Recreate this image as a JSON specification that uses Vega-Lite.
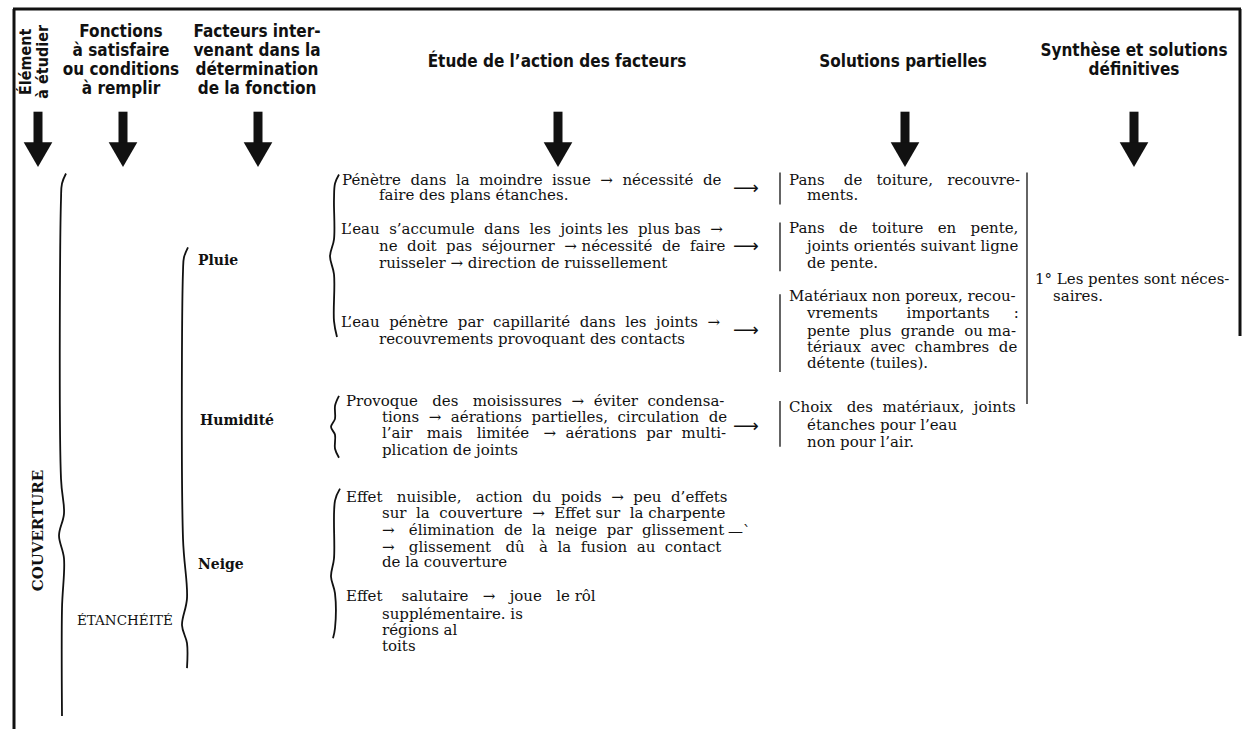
{
  "$schema": "https://vega.github.io/schema/vega-lite/v6.json",
  "width": 1247,
  "height": 731,
  "autosize": {"type": "fit", "contains": "padding"},
  "padding": 0,
  "background": "white",
  "config": {"view": {"stroke": null}},
  "data": {"values": [
      {"k": "head", "x": 121, "y": 32, "t": "Fonctions"},
      {"k": "head", "x": 121, "y": 51, "t": "à satisfaire"},
      {"k": "head", "x": 121, "y": 70, "t": "ou conditions"},
      {"k": "head", "x": 121, "y": 89, "t": "à remplir"},
      {"k": "head", "x": 257, "y": 32, "t": "Facteurs inter-"},
      {"k": "head", "x": 257, "y": 51, "t": "venant dans la"},
      {"k": "head", "x": 257, "y": 70, "t": "détermination"},
      {"k": "head", "x": 257, "y": 89, "t": "de la fonction"},
      {"k": "head", "x": 557, "y": 62, "t": "Étude de l’action des facteurs"},
      {"k": "head", "x": 903, "y": 62, "t": "Solutions partielles"},
      {"k": "head", "x": 1134, "y": 51, "t": "Synthèse et solutions"},
      {"k": "head", "x": 1134, "y": 70, "t": "définitives"},
      {"k": "headrot", "x": 26, "y": 62, "t": "Élément"},
      {"k": "headrot", "x": 43, "y": 62, "t": "à étudier"},
      {"k": "labelrot", "x": 38, "y": 532, "t": "COUVERTURE"},
      {"k": "caps", "x": 77, "y": 623, "t": "ÉTANCHÉITÉ"},
      {"k": "label", "x": 198, "y": 262, "t": "Pluie"},
      {"k": "label", "x": 200, "y": 422, "t": "Humidité"},
      {"k": "label", "x": 198, "y": 567, "t": "Neige"},
      {"k": "body", "x": 342, "y": 180, "t": "Pénètre\u00a0 dans\u00a0 la\u00a0 moindre\u00a0 issue\u00a0 →\u00a0 nécessité\u00a0 de"},
      {"k": "body", "x": 379, "y": 196, "t": "faire des plans étanches."},
      {"k": "body", "x": 341, "y": 230, "t": "L’eau\u00a0 s’accumule\u00a0 dans\u00a0 les\u00a0 joints les\u00a0 plus bas\u00a0 →"},
      {"k": "body", "x": 379, "y": 247, "t": "ne\u00a0 doit\u00a0 pas\u00a0 séjourner\u00a0 → nécessité\u00a0 de\u00a0 faire"},
      {"k": "body", "x": 379, "y": 264, "t": "ruisseler → direction de ruissellement"},
      {"k": "body", "x": 341, "y": 323, "t": "L’eau\u00a0 pénètre\u00a0 par\u00a0 capillarité\u00a0 dans\u00a0 les\u00a0 joints\u00a0 →"},
      {"k": "body", "x": 379, "y": 340, "t": "recouvrements provoquant des contacts"},
      {"k": "body", "x": 346, "y": 402, "t": "Provoque\u00a0\u00a0 des\u00a0\u00a0 moisissures\u00a0 →\u00a0 éviter\u00a0 condensa-"},
      {"k": "body", "x": 382, "y": 418, "t": "tions\u00a0 →\u00a0 aérations\u00a0 partielles,\u00a0 circulation\u00a0 de"},
      {"k": "body", "x": 382, "y": 434, "t": "l’air\u00a0\u00a0 mais\u00a0\u00a0 limitée\u00a0\u00a0 →\u00a0 aérations\u00a0 par\u00a0 multi-"},
      {"k": "body", "x": 382, "y": 451, "t": "plication de joints"},
      {"k": "body", "x": 346, "y": 498, "t": "Effet\u00a0\u00a0 nuisible,\u00a0\u00a0 action\u00a0 du\u00a0 poids\u00a0 →\u00a0 peu\u00a0 d’effets"},
      {"k": "body", "x": 382, "y": 514, "t": "sur\u00a0 la\u00a0 couverture\u00a0 →\u00a0 Effet sur\u00a0 la charpente"},
      {"k": "body", "x": 382, "y": 531, "t": "→\u00a0\u00a0 élimination\u00a0 de\u00a0 la\u00a0 neige\u00a0 par\u00a0 glissement"},
      {"k": "body", "x": 382, "y": 548, "t": "→\u00a0\u00a0 glissement\u00a0\u00a0 dû\u00a0\u00a0 à\u00a0 la\u00a0 fusion\u00a0 au\u00a0 contact"},
      {"k": "body", "x": 382, "y": 564, "t": "de la couverture"},
      {"k": "body", "x": 346, "y": 598, "t": "Effet\u00a0\u00a0\u00a0 salutaire\u00a0\u00a0 →\u00a0\u00a0 joue\u00a0\u00a0 le rôl"},
      {"k": "body", "x": 382, "y": 616, "t": "supplémentaire. is"},
      {"k": "body", "x": 382, "y": 632, "t": "régions al"},
      {"k": "body", "x": 382, "y": 648, "t": "toits"},
      {"k": "arrow", "x": 733, "y": 190, "t": "⟶"},
      {"k": "arrow", "x": 733, "y": 248, "t": "⟶"},
      {"k": "arrow", "x": 733, "y": 332, "t": "⟶"},
      {"k": "arrow", "x": 733, "y": 428, "t": "⟶"},
      {"k": "body", "x": 728, "y": 532, "t": "—`"},
      {"k": "body", "x": 789, "y": 180, "t": "Pans\u00a0\u00a0\u00a0 de\u00a0\u00a0 toiture,\u00a0\u00a0 recouvre-"},
      {"k": "body", "x": 807, "y": 196, "t": "ments."},
      {"k": "body", "x": 789, "y": 229, "t": "Pans\u00a0\u00a0 de\u00a0\u00a0 toiture\u00a0\u00a0 en\u00a0\u00a0 pente,"},
      {"k": "body", "x": 807, "y": 247, "t": "joints orientés suivant ligne"},
      {"k": "body", "x": 807, "y": 264, "t": "de pente."},
      {"k": "body", "x": 789, "y": 297, "t": "Matériaux non poreux, recou-"},
      {"k": "body", "x": 807, "y": 314, "t": "vrements\u00a0\u00a0\u00a0\u00a0\u00a0 importants\u00a0\u00a0\u00a0\u00a0 :"},
      {"k": "body", "x": 807, "y": 332, "t": "pente\u00a0 plus\u00a0 grande\u00a0 ou ma-"},
      {"k": "body", "x": 807, "y": 348, "t": "tériaux\u00a0 avec\u00a0 chambres\u00a0 de"},
      {"k": "body", "x": 807, "y": 364, "t": "détente (tuiles)."},
      {"k": "body", "x": 789, "y": 408, "t": "Choix\u00a0\u00a0 des\u00a0 matériaux,\u00a0 joints"},
      {"k": "body", "x": 807, "y": 426, "t": "étanches pour l’eau"},
      {"k": "body", "x": 807, "y": 443, "t": "non pour l’air."},
      {"k": "body", "x": 1035, "y": 280, "t": "1° Les pentes sont néces-"},
      {"k": "body", "x": 1053, "y": 297, "t": "saires."},
      {"k": "border", "x": 13, "y": 9, "x2": 1241, "y2": 9},
      {"k": "border", "x": 14, "y": 9, "x2": 14, "y2": 731},
      {"k": "border", "x": 1240, "y": 9, "x2": 1240, "y2": 337},
      {"k": "bar", "x": 780, "y": 173, "x2": 780, "y2": 205},
      {"k": "bar", "x": 780, "y": 223, "x2": 780, "y2": 272},
      {"k": "bar", "x": 780, "y": 295, "x2": 780, "y2": 373},
      {"k": "bar", "x": 780, "y": 402, "x2": 780, "y2": 448},
      {"k": "bar", "x": 1027, "y": 173, "x2": 1027, "y2": 405},
      {"k": "shaft", "x": 38, "y": 112, "x2": 38, "y2": 146},
      {"k": "shaft", "x": 123, "y": 112, "x2": 123, "y2": 146},
      {"k": "shaft", "x": 258, "y": 112, "x2": 258, "y2": 146},
      {"k": "shaft", "x": 558, "y": 112, "x2": 558, "y2": 146},
      {"k": "shaft", "x": 905, "y": 112, "x2": 905, "y2": 146},
      {"k": "shaft", "x": 1134, "y": 112, "x2": 1134, "y2": 146},
      {"k": "head3", "x": 38, "y": 155},
      {"k": "head3", "x": 123, "y": 155},
      {"k": "head3", "x": 258, "y": 155},
      {"k": "head3", "x": 558, "y": 155},
      {"k": "head3", "x": 905, "y": 155},
      {"k": "head3", "x": 1134, "y": 155},
      {"k": "brace", "id": "b1", "o": 1, "x": 66, "y": 174},
      {"k": "brace", "id": "b1", "o": 2, "x": 62, "y": 184},
      {"k": "brace", "id": "b1", "o": 3, "x": 61, "y": 200},
      {"k": "brace", "id": "b1", "o": 4, "x": 61, "y": 480},
      {"k": "brace", "id": "b1", "o": 5, "x": 64, "y": 515},
      {"k": "brace", "id": "b1", "o": 6, "x": 59, "y": 537},
      {"k": "brace", "id": "b1", "o": 7, "x": 64, "y": 560},
      {"k": "brace", "id": "b1", "o": 8, "x": 62, "y": 610},
      {"k": "brace", "id": "b1", "o": 9, "x": 62, "y": 718},
      {"k": "brace", "id": "b2", "o": 1, "x": 188, "y": 248},
      {"k": "brace", "id": "b2", "o": 2, "x": 184, "y": 258},
      {"k": "brace", "id": "b2", "o": 3, "x": 183, "y": 272},
      {"k": "brace", "id": "b2", "o": 4, "x": 183, "y": 540},
      {"k": "brace", "id": "b2", "o": 5, "x": 187, "y": 600},
      {"k": "brace", "id": "b2", "o": 6, "x": 182, "y": 627},
      {"k": "brace", "id": "b2", "o": 7, "x": 187, "y": 645},
      {"k": "brace", "id": "b2", "o": 8, "x": 187, "y": 670},
      {"k": "brace", "id": "b3", "o": 1, "x": 339, "y": 175},
      {"k": "brace", "id": "b3", "o": 2, "x": 335, "y": 184},
      {"k": "brace", "id": "b3", "o": 3, "x": 334, "y": 200},
      {"k": "brace", "id": "b3", "o": 4, "x": 334, "y": 240},
      {"k": "brace", "id": "b3", "o": 5, "x": 330, "y": 257},
      {"k": "brace", "id": "b3", "o": 6, "x": 334, "y": 275},
      {"k": "brace", "id": "b3", "o": 7, "x": 334, "y": 322},
      {"k": "brace", "id": "b3", "o": 8, "x": 337, "y": 338},
      {"k": "brace", "id": "b4", "o": 1, "x": 339, "y": 397},
      {"k": "brace", "id": "b4", "o": 2, "x": 335, "y": 407},
      {"k": "brace", "id": "b4", "o": 3, "x": 335, "y": 420},
      {"k": "brace", "id": "b4", "o": 4, "x": 331, "y": 428},
      {"k": "brace", "id": "b4", "o": 5, "x": 335, "y": 436},
      {"k": "brace", "id": "b4", "o": 6, "x": 335, "y": 450},
      {"k": "brace", "id": "b4", "o": 7, "x": 339, "y": 459},
      {"k": "brace", "id": "b5", "o": 1, "x": 340, "y": 490},
      {"k": "brace", "id": "b5", "o": 2, "x": 335, "y": 502},
      {"k": "brace", "id": "b5", "o": 3, "x": 334, "y": 560},
      {"k": "brace", "id": "b5", "o": 4, "x": 331, "y": 578},
      {"k": "brace", "id": "b5", "o": 5, "x": 335, "y": 595},
      {"k": "brace", "id": "b5", "o": 6, "x": 335, "y": 630},
      {"k": "brace", "id": "b5", "o": 7, "x": 333, "y": 640}
  ]},
  "encoding": {
    "x": {"field": "x", "type": "quantitative", "scale": {"domain": [0, 1247], "nice": false, "zero": false}, "axis": null},
    "y": {"field": "y", "type": "quantitative", "scale": {"domain": [0, 731], "nice": false, "zero": false, "reverse": true}, "axis": null}
  },
  "layer": [
    {
      "transform": [{"filter": "datum.k === 'border'"}],
      "mark": {"type": "rule", "color": "#111", "strokeWidth": 3},
      "encoding": {"x2": {"field": "x2"}, "y2": {"field": "y2"}}
    },
    {
      "transform": [{"filter": "datum.k === 'bar'"}],
      "mark": {"type": "rule", "color": "#111", "strokeWidth": 1.3},
      "encoding": {"x2": {"field": "x2"}, "y2": {"field": "y2"}}
    },
    {
      "transform": [{"filter": "datum.k === 'shaft'"}],
      "mark": {"type": "rule", "color": "#111", "strokeWidth": 9},
      "encoding": {"x2": {"field": "x2"}, "y2": {"field": "y2"}}
    },
    {
      "transform": [{"filter": "datum.k === 'head3'"}],
      "mark": {"type": "point", "shape": "triangle-down", "filled": true, "color": "#111", "size": 820, "opacity": 1},
      "encoding": {}
    },
    {
      "transform": [{"filter": "datum.k === 'brace'"}],
      "mark": {"type": "line", "color": "#111", "strokeWidth": 1.8, "interpolate": "catmull-rom"},
      "encoding": {
        "detail": {"field": "id", "type": "nominal"},
        "order": {"field": "o", "type": "quantitative"}
      }
    },
    {
      "transform": [{"filter": "datum.k === 'head'"}],
      "mark": {"type": "text", "font": "DejaVu Sans Condensed, DejaVu Sans", "fontWeight": "bold", "fontSize": 17, "align": "center", "baseline": "middle", "color": "#111"},
      "encoding": {"text": {"field": "t", "type": "nominal"}}
    },
    {
      "transform": [{"filter": "datum.k === 'headrot'"}],
      "mark": {"type": "text", "font": "DejaVu Sans Condensed, DejaVu Sans", "fontWeight": "bold", "fontSize": 16, "align": "center", "baseline": "middle", "angle": 270, "color": "#111"},
      "encoding": {"text": {"field": "t", "type": "nominal"}}
    },
    {
      "transform": [{"filter": "datum.k === 'labelrot'"}],
      "mark": {"type": "text", "font": "DejaVu Serif", "fontWeight": "bold", "fontSize": 15, "align": "center", "baseline": "middle", "angle": 270, "color": "#111"},
      "encoding": {"text": {"field": "t", "type": "nominal"}}
    },
    {
      "transform": [{"filter": "datum.k === 'label'"}],
      "mark": {"type": "text", "font": "DejaVu Serif", "fontWeight": "bold", "fontSize": 14, "align": "left", "baseline": "middle", "color": "#111"},
      "encoding": {"text": {"field": "t", "type": "nominal"}}
    },
    {
      "transform": [{"filter": "datum.k === 'caps'"}],
      "mark": {"type": "text", "font": "DejaVu Serif", "fontSize": 13.5, "align": "left", "baseline": "middle", "color": "#111"},
      "encoding": {"text": {"field": "t", "type": "nominal"}}
    },
    {
      "transform": [{"filter": "datum.k === 'arrow'"}],
      "mark": {"type": "text", "font": "DejaVu Sans", "fontSize": 18, "align": "left", "baseline": "middle", "color": "#111"},
      "encoding": {"text": {"field": "t", "type": "nominal"}}
    },
    {
      "transform": [{"filter": "datum.k === 'body'"}],
      "mark": {"type": "text", "font": "DejaVu Serif", "fontSize": 15, "align": "left", "baseline": "middle", "color": "#111"},
      "encoding": {"text": {"field": "t", "type": "nominal"}}
    }
  ]
}
